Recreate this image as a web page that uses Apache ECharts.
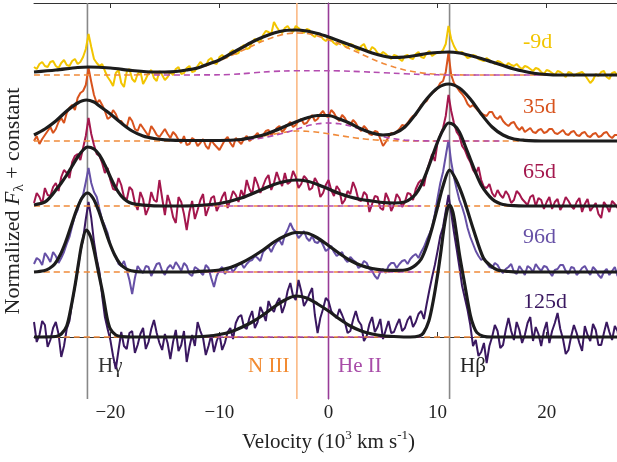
<!DOCTYPE html>
<html>
<head>
<meta charset="utf-8">
<script src="https://cdn.jsdelivr.net/npm/echarts@6/dist/echarts.min.js"></script>
<style>
  html, body { margin: 0; padding: 0; background: #fff; }
  #main { width: 617px; height: 462px; }
</style>
</head>
<body>
<div id="main"></div>
<script>
// spectra sampled on a 0.5 grid starting at -27 (10^3 km/s), flux relative to each baseline;
// the *_mid arrays hold the samples that fall half way between the main ones
var X0 = -27, STEP = 0.5
var epochs = ['-9d', '35d', '65d', '96d', '125d']
var offsets = [26.2, 19.6, 13.1, 6.5, 0]
var colors = ['#f2c500', '#d8531d', '#a4174d', '#6650a6', '#3a1860']
var xTicks = [-20, -10, 0, 10, 20]

var spec_m9 = [0.8,1.1,0.9,1.3,0.9,1.2,1.0,1.4,1.1,1.8,
  4.1,1.6,0.9,0.4,-0.6,0.2,-0.8,0.3,-0.4,0.1,
  -0.9,0.2,-0.3,0.4,-0.5,0.3,0.6,0.1,0.7,0.3,
  0.9,1.0,1.5,1.2,1.8,1.7,2.3,2.1,2.8,2.6,
  3.3,3.4,4.0,4.3,5.3,4.4,4.7,4.5,4.9,4.4,
  4.6,4.0,4.2,3.6,3.7,3.2,3.4,2.9,3.1,2.6,
  2.9,2.5,2.8,2.2,2.3,1.8,2.0,1.6,1.9,1.7,
  2.1,1.8,2.2,1.9,2.3,2.5,4.9,2.9,2.2,2.0,
  1.8,1.9,1.5,1.7,1.3,1.4,1.1,1.2,0.9,0.8,
  0.9,0.6,0.7,0.3,0.5,0.2,0.4,0.1,0.3,-0.1,
  0.2,0.0,-0.8,0.1,0.3,-0.2,0.2,-0.1,0.1]
var spec_m9_mid = [0.6,1.3,0.8,1.4,0.7,1.5,0.9,1.6,1.3,2.6,
  2.8,1.2,1.1,-0.2,-1.1,0.5,-1.2,0.6,-0.7,0.4,
  -0.4,0.5,-0.6,0.0,-0.2,0.0,0.8,0.2,0.9,0.4,
  1.3,0.9,1.7,1.1,2.0,1.8,2.5,2.2,3.0,2.7,
  3.6,3.3,4.4,4.1,4.8,4.2,4.9,4.3,4.7,4.2,
  4.5,3.8,4.0,3.4,3.5,3.0,3.2,2.7,3.0,2.4,
  3.1,2.3,2.6,2.0,2.1,1.6,1.9,1.4,2.0,1.6,
  2.3,1.7,2.4,2.1,2.2,3.1,3.6,2.4,2.3,1.7,
  2.0,1.6,1.4,1.5,1.1,1.3,0.9,1.0,1.1,0.6,
  0.8,0.4,0.6,0.1,0.4,0.0,0.3,-0.2,0.2,0.1,
  0.3,-0.4,-0.5,-0.1,0.4,-0.4,0.3,-0.3]
var spec_35 = [0.0,-0.3,0.6,1.4,1.2,2.3,2.8,3.6,4.3,5.0,
  7.3,4.6,4.1,3.0,2.4,2.7,2.0,1.4,2.0,1.0,
  1.3,0.5,1.1,0.4,1.2,0.3,0.6,-0.2,-0.4,0.3,
  -0.5,0.2,-0.8,-0.3,-0.9,0.1,-0.2,0.3,-0.3,0.5,
  0.2,0.8,0.6,1.1,0.9,1.5,1.2,1.9,1.6,2.2,
  1.8,2.6,2.2,3.0,2.4,2.8,2.0,2.3,1.6,1.8,
  1.0,1.2,0.6,0.9,-0.5,0.4,0.7,1.2,1.5,2.2,
  2.6,3.6,4.0,4.8,5.3,6.0,8.8,5.8,5.0,4.3,
  3.4,3.3,2.8,2.5,2.9,2.2,2.0,1.5,1.9,1.1,
  0.9,1.3,0.8,1.2,0.9,1.2,0.7,1.1,0.6,1.0,
  0.5,0.9,0.4,0.8,0.5,0.9,0.3,0.6,0.4]
var spec_35_mid = [0.5,0.2,1.0,0.8,1.9,1.8,3.3,3.1,4.8,5.6,
  5.9,3.8,3.6,2.2,3.1,2.0,1.6,2.4,1.2,1.7,
  0.9,1.5,0.6,0.8,0.7,0.9,0.1,0.5,-0.3,0.1,
  -0.2,-0.5,0.1,-0.6,-0.4,0.4,-0.6,0.0,0.2,0.0,
  0.5,0.3,1.0,0.6,1.3,0.9,1.6,1.4,2.0,1.7,
  2.2,2.0,2.7,2.5,3.1,2.3,2.6,1.8,2.1,1.3,
  1.5,0.7,1.0,0.2,-0.1,0.8,0.9,1.6,1.8,2.5,
  3.1,3.8,4.5,5.0,5.8,6.9,6.6,5.4,4.7,3.7,
  3.6,3.0,2.6,2.9,2.4,2.5,1.7,1.8,1.4,1.4,
  1.1,0.9,1.1,0.8,1.2,0.8,0.9,0.7,0.9,0.6,
  0.8,0.5,0.7,0.4,0.8,0.5,0.6,0.2]
var spec_65 = [0.3,0.9,1.8,1.0,2.3,2.9,3.3,4.4,5.2,5.8,
  8.8,6.1,5.0,3.3,2.6,1.6,2.1,0.6,1.6,-0.4,
  0.7,-0.2,0.6,2.6,-0.9,0.2,-1.7,0.4,-2.4,0.5,
  -0.4,1.2,-0.2,1.0,0.1,1.4,0.6,1.1,1.6,2.6,
  1.2,2.2,2.0,3.1,2.3,2.6,3.3,2.4,2.9,2.2,
  2.7,1.8,2.3,1.3,2.6,1.0,1.6,0.6,1.2,1.7,
  0.5,1.1,0.2,0.9,-0.4,0.7,0.1,0.8,0.4,1.2,
  1.7,2.6,3.5,5.2,6.4,7.8,11.1,8.3,7.0,5.6,
  4.4,3.2,2.6,1.8,1.3,1.6,0.8,1.1,0.6,1.2,
  0.4,0.9,0.0,0.6,0.4,-0.3,0.7,0.1,0.5,-0.3,
  0.8,0.2,-0.5,0.3,-1.2,0.0,0.5,-0.2,0.3]
var spec_65_mid = [1.3,0.2,1.1,1.9,1.5,3.6,2.8,5.0,4.6,7.0,
  7.2,5.2,4.3,3.8,1.7,2.8,0.9,1.9,0.3,1.4,
  -0.9,1.4,0.4,0.8,1.1,-1.1,0.9,-0.8,-0.6,-1.3,
  0.6,-1.0,0.8,-0.5,0.9,-0.2,1.5,0.4,0.9,1.7,
  2.9,1.3,2.7,1.6,3.4,2.0,2.2,3.5,1.8,3.0,
  1.6,2.8,0.9,2.1,1.6,2.0,0.2,1.5,2.4,0.6,
  1.4,-0.6,1.0,-0.2,1.3,-0.5,1.2,-0.1,1.3,0.6,
  2.3,2.0,4.3,4.5,7.1,9.0,9.5,7.4,6.0,4.9,
  3.6,3.9,1.9,2.2,0.9,1.1,1.5,0.3,1.5,0.7,
  0.1,1.1,0.8,-0.3,0.9,0.4,-0.4,0.9,0.0,0.4,
  -0.6,0.7,-0.1,-0.8,0.4,-0.6,0.2,0.6]
var spec_96 = [0.8,1.2,1.9,1.0,1.6,1.4,2.8,4.6,6.2,7.7,
  10.4,8.0,6.3,4.6,2.7,1.5,0.6,0.2,-2.2,0.6,
  -0.1,0.5,0.2,0.9,-0.3,0.7,1.0,0.1,0.6,-0.4,
  0.3,-0.3,0.4,-1.5,0.2,-0.2,0.5,0.4,0.9,0.8,
  1.2,1.4,2.0,2.5,2.6,3.2,3.7,4.9,4.0,3.7,
  3.4,3.6,2.9,2.7,2.3,2.0,1.8,1.3,1.5,1.0,
  0.6,0.9,0.1,-0.7,0.3,0.6,0.9,0.8,1.2,1.3,
  1.8,2.0,3.2,4.5,7.4,10.0,13.2,9.5,7.2,5.6,
  3.5,2.1,1.2,0.9,0.4,0.7,-0.1,0.5,0.0,0.6,
  -0.3,0.4,0.8,0.1,0.5,-0.4,0.3,0.7,-0.2,0.4,
  0.0,0.6,-0.3,0.2,-0.6,0.3,0.1,-0.4,0.2]
var spec_96_mid = [1.4,0.7,1.5,2.0,0.9,2.0,3.5,5.6,7.2,9.0,
  8.9,7.5,5.2,3.9,2.0,0.8,1.1,-0.8,-0.6,0.2,
  0.6,-0.4,0.8,0.1,0.4,0.3,0.6,0.9,-0.2,0.5,
  0.0,0.7,-0.6,-0.4,0.5,0.2,0.0,0.8,0.4,1.1,
  1.6,1.1,2.3,2.0,3.0,2.7,4.2,4.3,3.4,4.1,
  3.1,3.0,3.2,2.1,2.6,1.6,2.0,1.0,1.2,0.4,
  1.1,0.3,-0.4,0.0,-0.1,0.9,0.4,1.1,0.8,1.6,
  1.4,2.5,3.8,5.8,8.9,11.6,11.0,8.3,6.5,4.4,
  2.8,1.6,1.4,0.5,0.9,0.2,0.3,0.8,-0.2,0.2,
  0.6,0.0,0.4,0.6,0.0,0.2,0.7,0.1,0.5,-0.3,
  0.4,0.1,0.5,-0.3,0.0,-0.3,0.5,-0.1]
var spec_125 = [1.5,0.2,1.2,-0.3,1.5,-2.0,0.8,3.5,6.7,9.8,
  13.5,9.5,6.5,2.0,-0.3,-3.2,0.5,-1.2,0.6,-0.8,
  0.9,-0.5,1.7,-0.6,0.3,-2.2,0.7,-0.8,-2.5,0.2,
  1.5,-0.1,-0.9,-1.5,0.3,-0.6,0.9,1.4,2.2,0.8,
  2.6,1.5,2.4,3.6,2.5,3.9,3.2,5.4,3.7,4.6,
  3.6,4.9,0.4,2.8,3.6,2.2,2.8,1.5,0.6,2.6,
  1.2,0.1,2.0,1.0,-0.2,1.6,0.5,1.8,0.9,2.1,
  1.5,2.6,3.3,6.0,8.6,11.0,14.2,10.5,7.0,3.9,
  1.2,-0.3,-1.5,-2.6,0.0,0.6,-0.8,1.9,-0.3,0.7,
  0.2,2.0,1.0,-0.9,1.5,0.6,2.4,-0.2,-1.3,1.2,
  -0.6,1.1,-0.4,0.7,-0.8,1.5,-0.3,0.6,0.2]
var spec_125_mid = [-0.5,1.6,-1.0,0.9,0.3,-0.9,1.6,5.0,8.5,11.8,
  11.9,7.8,4.1,0.8,-1.9,-1.3,-0.9,0.4,-1.6,0.3,
  -1.2,0.8,0.4,-1.3,-0.6,-0.5,-1.4,0.6,-1.0,-0.9,
  0.6,-1.8,0.2,-0.4,-1.3,0.5,-0.2,2.0,1.0,1.9,
  0.9,3.0,1.6,2.9,3.4,2.4,4.6,4.1,5.7,3.1,
  4.3,2.2,1.9,3.9,2.6,1.9,2.2,0.4,1.7,1.6,
  -0.4,1.3,0.5,1.8,0.7,0.4,1.2,0.6,1.7,1.0,
  2.3,1.8,4.7,7.2,10.1,12.6,12.4,8.8,5.1,2.7,
  -0.9,-1.9,-0.6,-0.9,1.2,-1.1,0.7,0.6,1.5,-0.6,
  1.4,-0.4,0.3,0.6,-0.6,1.4,0.8,-1.7,0.1,0.4,
  -1.4,0.2,1.3,-0.8,0.4,0.5,1.1,-1.1]
var spectra = [spec_m9, spec_35, spec_65, spec_96, spec_125]
var spectraMid = [spec_m9_mid, spec_35_mid, spec_65_mid, spec_96_mid, spec_125_mid]

// model fits [velocity, flux]
var fit_m9 = [[-27,0.3],[-25,0.5],[-23,0.75],[-22,0.8],[-20,0.7],[-18,0.45],[-16,0.3],[-15,0.3],[-14,0.35],[-13,0.5],[-12,0.7],[-11,1.1],[-10,1.5],[-9,2.1],[-8,2.7],[-7,3.3],[-6,3.8],[-5,4.2],[-4,4.45],[-3,4.5],[-2,4.4],[-1,4.15],[0,3.8],[1,3.4],[2,3.0],[3,2.6],[4,2.2],[5,1.9],[6,1.75],[7,1.8],[8,1.95],[9,2.15],[10,2.25],[11,2.3],[12,2.2],[13,1.95],[14,1.65],[15,1.3],[16,0.95],[17,0.6],[18,0.35],[19,0.15],[20,0.05],[21,0],[27,0]]
var fit_35 = [[-27,0.6],[-26,1.2],[-25,2.0],[-24,3.0],[-23,3.8],[-22.2,4.1],[-21.5,3.9],[-21,3.5],[-20,2.7],[-19,1.8],[-18,1.0],[-17,0.5],[-16,0.25],[-15,0.12],[-13,0.05],[-10,0.05],[-8,0.15],[-7,0.35],[-6,0.6],[-5,1.0],[-4,1.45],[-3,1.9],[-2,2.3],[-1,2.55],[0,2.55],[1,2.2],[2,1.75],[3,1.2],[4,0.8],[5,0.6],[6,0.75],[7,1.4],[8,2.7],[9,4.2],[10,5.3],[11,5.7],[12,5.3],[13,4.2],[14,2.7],[15,1.4],[16,0.6],[17,0.2],[18,0.07],[19,0.02],[20,0],[27,0]]
var fit_65 = [[-27,0.1],[-26,0.4],[-25.5,0.9],[-25,1.6],[-24.5,2.3],[-24,3.1],[-23.5,4.0],[-23,4.9],[-22.5,5.6],[-22.1,5.9],[-21.5,5.7],[-21,5.1],[-20.5,4.1],[-20,2.9],[-19.5,1.8],[-19,1.0],[-18.5,0.5],[-18,0.25],[-17,0.08],[-16,0.02],[-14,0],[-12,0.05],[-10,0.25],[-8,0.8],[-6,1.7],[-5,2.15],[-4,2.45],[-3,2.6],[-2,2.5],[-1,2.15],[0,1.7],[1,1.25],[2,0.9],[3,0.65],[4,0.5],[5,0.35],[6,0.3],[7,0.4],[7.5,0.7],[8,1.2],[8.5,2.1],[9,3.4],[9.5,4.9],[10,6.4],[10.5,7.6],[11,8.3],[11.5,8.1],[12,7.4],[12.5,6.1],[13,4.7],[13.5,3.3],[14,2.1],[14.5,1.3],[15,0.7],[15.5,0.35],[16,0.15],[17,0.03],[18,0],[27,0]]
var fit_96 = [[-27,0],[-26.1,0.12],[-25.6,0.35],[-25.1,0.8],[-24.6,1.7],[-24.1,3.0],[-23.6,4.6],[-23.1,6.2],[-22.6,7.4],[-22.1,7.9],[-21.6,7.4],[-21.1,6.2],[-20.6,4.6],[-20.1,3.0],[-19.6,1.7],[-19.1,0.8],[-18.6,0.35],[-18.1,0.12],[-17.1,0],[-13,0],[-11,0.1],[-10,0.2],[-9,0.45],[-8,0.9],[-7,1.5],[-6,2.2],[-5,3.0],[-4,3.6],[-3,3.95],[-2,3.9],[-1,3.4],[0,2.65],[1,1.85],[2,1.15],[3,0.65],[4,0.35],[5,0.2],[6,0.17],[7,0.2],[7.5,0.35],[8,0.7],[8.5,1.3],[9,2.6],[9.5,4.4],[10,6.5],[10.5,8.6],[11.1,10.2],[11.7,9.2],[12.4,7.3],[13.3,4.2],[14.2,1.4],[14.9,0.6],[15.5,0.2],[16.5,0.05],[17.5,0],[27,0]]
var fit_125 = [[-27,0],[-25,0.05],[-24.5,0.3],[-24,1.1],[-23.6,3.0],[-23.2,5.4],[-22.9,7.5],[-22.6,9.4],[-22.2,10.7],[-21.8,10.0],[-21.5,8.7],[-21,6.0],[-20.7,4.4],[-20.3,1.9],[-20,0.8],[-19.5,0.2],[-19,0.05],[-18,0],[-13,0],[-11,0.1],[-10,0.25],[-9,0.5],[-8,0.95],[-7,1.5],[-6,2.2],[-5,3.0],[-4,3.7],[-3,4.1],[-2,3.9],[-1,3.3],[0,2.6],[1,1.8],[2,1.1],[3,0.6],[4,0.3],[5,0.12],[6,0.05],[7.5,0],[8.3,0.1],[8.7,0.4],[9.2,1.6],[9.6,3.6],[10,6.2],[10.3,8.5],[10.6,11.0],[10.9,12.8],[11.1,13.2],[11.4,12.5],[11.7,10.6],[12,8.3],[12.5,5.2],[13,2.2],[13.3,1.1],[13.6,0.45],[14.2,0.08],[15,0],[27,0]]
var fits = [fit_m9, fit_35, fit_65, fit_96, fit_125]

// N III (orange dashed) and He II (purple dashed) components
var niii_m9 = [[-27,0],[-18,0],[-15,0.2],[-13,0.5],[-12,0.7],[-11,1.0],[-10,1.4],[-9,1.9],[-8,2.4],[-7,2.9],[-6,3.4],[-5,3.8],[-4,4.1],[-3,4.2],[-2,4.15],[-1,3.9],[0,3.5],[1,3.1],[2,2.6],[3,2.1],[4,1.6],[5,1.15],[6,0.8],[7,0.5],[8,0.3],[9,0.15],[10,0.07],[12,0.01],[13,0],[27,0]]
var heii_m9 = [[-16,0],[-10,0.02],[-8,0.12],[-6,0.3],[-4,0.4],[-2,0.43],[0,0.43],[2,0.38],[4,0.28],[6,0.18],[8,0.08],[10,0.02],[12,0],[20,0]]
var niii_35 = [[-27,0],[-12,0],[-10,0.05],[-8,0.2],[-6,0.5],[-4,0.88],[-3,1.0],[-2,0.97],[-1,0.88],[0,0.72],[1,0.55],[2,0.38],[3,0.24],[4,0.13],[5,0.06],[6,0.02],[8,0],[27,0]]
var heii_35 = [[-12,0],[-9,0.05],[-7,0.18],[-6,0.32],[-5,0.55],[-4,0.82],[-3,1.15],[-2,1.5],[-1,1.72],[0,1.8],[1,1.72],[2,1.5],[3,1.15],[4,0.78],[5,0.45],[6,0.22],[7,0.09],[8,0.03],[10,0],[16,0]]
var flat_full = [[-27,0],[27,0]]
var flat_mid = [[-12,0],[8.5,0]]
var niii = [niii_m9, niii_35, flat_full, flat_full, flat_full]
var heii = [heii_m9, heii_35, flat_mid, flat_mid, flat_mid]

var lines = [
  { name: 'Hγ', v: -22.1, color: '#888888', text: '#333333' },
  { name: 'N III', v: -2.9, color: '#fbb984', text: '#f28a30' },
  { name: 'He II', v: 0, color: '#983c98', text: '#a84ca8' },
  { name: 'Hβ', v: 11.1, color: '#888888', text: '#222222' }
]
var labelLeft = [98, 248, 338, 460]

var YMIN = -6.2, YMAX = 33.4
var serif = '"Liberation Serif", "DejaVu Serif", serif'

var series = []
lines.forEach(function (l) {
  series.push({
    type: 'line', data: [[l.v, YMIN], [l.v, YMAX]], showSymbol: false, silent: true,
    lineStyle: { color: l.color, width: 1.6 }
  })
})
spectra.forEach(function (s, k) {
  var pts = []
  s.forEach(function (v, i) {
    pts.push([X0 + STEP * i, v + offsets[k]])
    if (i < spectraMid[k].length) pts.push([X0 + STEP * i + STEP / 2, spectraMid[k][i] + offsets[k]])
  })
  series.push({
    type: 'line', showSymbol: false, data: pts,
    lineStyle: { color: colors[k], width: 2 }
  })
})
for (var k = 0; k < 5; k++) {
  series.push({
    type: 'line', showSymbol: false, smooth: 0.3,
    data: niii[k].map(function (p) { return [p[0], p[1] + offsets[k]] }),
    lineStyle: { color: '#f08a3a', width: 1.6, type: [6, 4] }
  })
  series.push({
    type: 'line', showSymbol: false, smooth: 0.3,
    data: heii[k].map(function (p) { return [p[0], p[1] + offsets[k]] }),
    lineStyle: { color: '#b44cb0', width: 1.6, type: [6, 4] }
  })
}
fits.forEach(function (f, k) {
  series.push({
    type: 'line', showSymbol: false, smooth: 0.3,
    data: f.map(function (p) { return [p[0], p[1] + offsets[k]] }),
    lineStyle: { color: '#1c1c1c', width: 3.2 }
  })
})

var graphics = []
var epochTop = [43, 108, 173, 238, 303]
epochs.forEach(function (e, k) {
  graphics.push({ type: 'text', left: 523, top: epochTop[k] - 12,
    style: { text: e, fill: colors[k], font: '22px ' + serif } })
})
lines.forEach(function (l, k) {
  graphics.push({ type: 'text', left: labelLeft[k], top: 356,
    style: { text: l.name, fill: l.text, font: '21px ' + serif } })
})

var myChart = echarts.init(document.getElementById('main'))
var option = {
  animation: false,
  backgroundColor: '#fff',
  grid: { left: 34, top: 3, width: 589, height: 396, containLabel: false, outerBoundsMode: 'none' },
  xAxis: [{
    type: 'value', min: -27, max: 27,
    name: '{a|Velocity (10}{s|3}{a| km s}{s|-1}{a|)}', nameLocation: 'middle', nameGap: 30,
    nameTextStyle: { rich: {
      a: { fontFamily: serif, fontSize: 21, color: '#222', lineHeight: 26 },
      s: { fontFamily: serif, fontSize: 13, color: '#222', verticalAlign: 'top', lineHeight: 26 }
    } },
    axisLine: { lineStyle: { color: '#333', width: 1 } },
    axisTick: { inside: true, length: 5, customValues: xTicks, lineStyle: { color: '#333' } },
    axisLabel: { customValues: xTicks, margin: 5, fontFamily: serif, fontSize: 19, color: '#222',
      formatter: function (v) { return String(v).replace('-', '\u2212') } },
    splitLine: { show: false }
  }, {
    type: 'value', min: -27, max: 27, position: 'top',
    axisLine: { lineStyle: { color: '#333', width: 1 } },
    axisTick: { inside: true, length: 5, customValues: xTicks, lineStyle: { color: '#333' } },
    axisLabel: { show: false },
    splitLine: { show: false }
  }],
  yAxis: {
    type: 'value', min: YMIN, max: YMAX,
    name: '{a|Normalized }{b|F}{c|λ}{a| + constant}', nameLocation: 'middle', nameGap: 7, nameRotate: 90,
    nameTextStyle: { rich: {
      a: { fontFamily: serif, fontSize: 22, color: '#222', lineHeight: 28 },
      b: { fontFamily: serif, fontSize: 22, fontStyle: 'italic', color: '#222', lineHeight: 28 },
      c: { fontFamily: serif, fontSize: 15, color: '#222', verticalAlign: 'bottom', lineHeight: 28 }
    } },
    axisLine: { show: true, lineStyle: { color: '#333', width: 1 } },
    axisTick: { show: false },
    axisLabel: { show: false },
    splitLine: { show: false }
  },
  graphic: graphics,
  series: series
}
myChart.setOption(option)
</script>
</body>
</html>
